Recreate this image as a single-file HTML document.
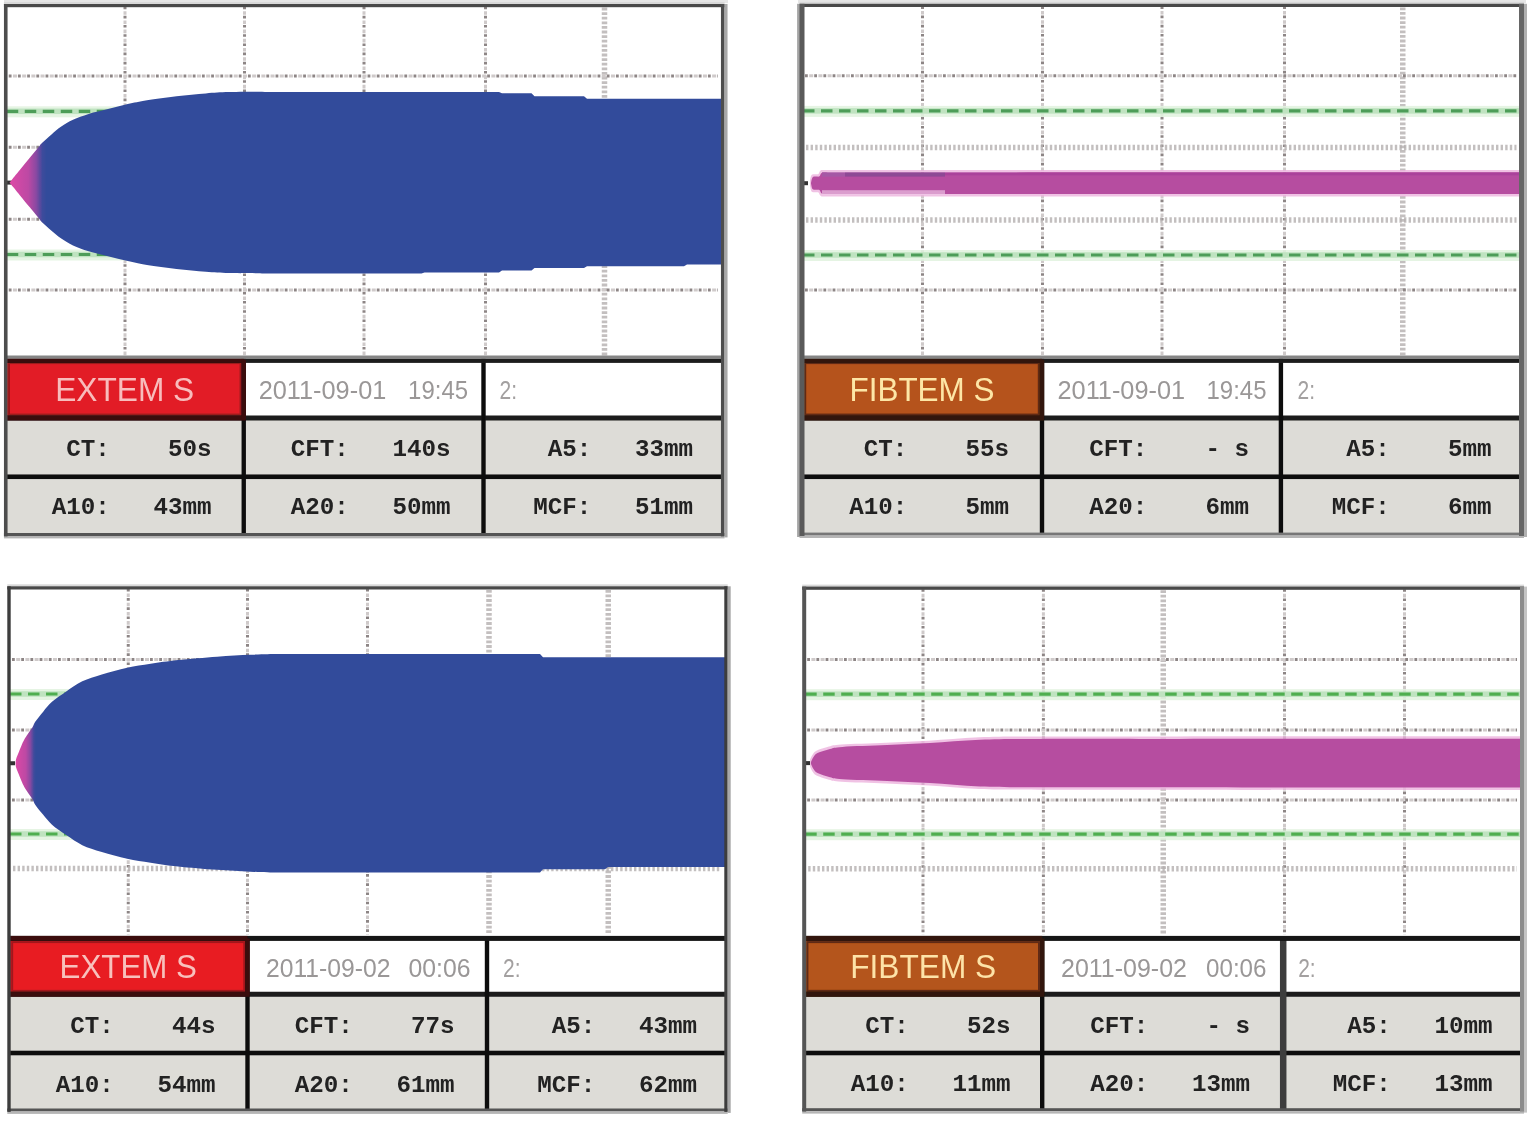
<!DOCTYPE html>
<html lang="en"><head><meta charset="utf-8"><title>ROTEM traces</title>
<style>html,body{margin:0;padding:0;background:#fff}body{width:1536px;height:1133px;overflow:hidden}svg{display:block}</style>
</head><body>
<svg width="1536" height="1133" viewBox="0 0 1536 1133">
<rect width="1536" height="1133" fill="#fff"/>
<defs><filter id="soft" x="-2%" y="-2%" width="104%" height="104%"><feGaussianBlur stdDeviation="0.7"/></filter></defs>
<g filter="url(#soft)">
<rect x="4" y="0" width="724" height="3.2" fill="#e6e6e6"/>
<rect x="798" y="0" width="728" height="3.2" fill="#e6e6e6"/>
<g id="tl">
<rect x="5.75" y="5.6" width="717" height="529.4" fill="#fff"/>
<rect x="5.75" y="418" width="717" height="117" fill="#dddcd7"/>
<rect x="5.75" y="358.5" width="238" height="59.5" fill="#e21e26"/>
<rect x="8.95" y="363.1" width="231.6" height="51.5" fill="none" stroke="#9c1a1e" stroke-width="2"/>
<clipPath id="ctl"><rect x="5.75" y="5.6" width="717" height="352.9"/></clipPath>
<g clip-path="url(#ctl)">
<line x1="125" y1="6.6" x2="125" y2="355.5" stroke="#8d8585" stroke-width="3" stroke-dasharray="2.6 6.6"/>
<line x1="125" y1="6.6" x2="125" y2="355.5" stroke="#cfcaca" stroke-width="3" stroke-dasharray="3.6 5.6" stroke-dashoffset="-4.6"/>
<line x1="244.5" y1="6.6" x2="244.5" y2="355.5" stroke="#8d8585" stroke-width="3" stroke-dasharray="2.6 6.6"/>
<line x1="244.5" y1="6.6" x2="244.5" y2="355.5" stroke="#cfcaca" stroke-width="3" stroke-dasharray="3.6 5.6" stroke-dashoffset="-4.6"/>
<line x1="364" y1="6.6" x2="364" y2="355.5" stroke="#8d8585" stroke-width="3" stroke-dasharray="2.6 6.6"/>
<line x1="364" y1="6.6" x2="364" y2="355.5" stroke="#cfcaca" stroke-width="3" stroke-dasharray="3.6 5.6" stroke-dashoffset="-4.6"/>
<line x1="485.5" y1="6.6" x2="485.5" y2="355.5" stroke="#8d8585" stroke-width="3" stroke-dasharray="2.6 6.6"/>
<line x1="485.5" y1="6.6" x2="485.5" y2="355.5" stroke="#cfcaca" stroke-width="3" stroke-dasharray="3.6 5.6" stroke-dashoffset="-4.6"/>
<line x1="604.5" y1="7.6" x2="604.5" y2="355.5" stroke="#b9b4b4" stroke-width="5.5" stroke-dasharray="2.8 1.8" opacity=".85"/>
<line x1="8.75" y1="75.9" x2="717.75" y2="75.9" stroke="#8d8585" stroke-width="3" stroke-dasharray="2.8 6.4"/>
<line x1="8.75" y1="75.9" x2="717.75" y2="75.9" stroke="#cfcaca" stroke-width="3" stroke-dasharray="4 5.2" stroke-dashoffset="-4.2"/>
<line x1="8.75" y1="147.3" x2="717.75" y2="147.3" stroke="#8d8585" stroke-width="3" stroke-dasharray="2.8 6.4"/>
<line x1="8.75" y1="147.3" x2="717.75" y2="147.3" stroke="#cfcaca" stroke-width="3" stroke-dasharray="4 5.2" stroke-dashoffset="-4.2"/>
<line x1="8.75" y1="219.3" x2="717.75" y2="219.3" stroke="#8d8585" stroke-width="3" stroke-dasharray="2.8 6.4"/>
<line x1="8.75" y1="219.3" x2="717.75" y2="219.3" stroke="#cfcaca" stroke-width="3" stroke-dasharray="4 5.2" stroke-dashoffset="-4.2"/>
<line x1="8.75" y1="289.9" x2="717.75" y2="289.9" stroke="#8d8585" stroke-width="3" stroke-dasharray="2.8 6.4"/>
<line x1="8.75" y1="289.9" x2="717.75" y2="289.9" stroke="#cfcaca" stroke-width="3" stroke-dasharray="4 5.2" stroke-dashoffset="-4.2"/>
<rect x="5.75" y="106.3" width="717" height="11" fill="#dff1dc" opacity=".8"/>
<rect x="5.75" y="108.55" width="717" height="5.5" fill="#bfe3c0"/>
<line x1="6.75" y1="111.3" x2="722.75" y2="111.3" stroke="#4d9d58" stroke-width="3.2" stroke-dasharray="11.5 6.5"/>
<rect x="5.75" y="249.5" width="717" height="11" fill="#dff1dc" opacity=".8"/>
<rect x="5.75" y="251.75" width="717" height="5.5" fill="#bfe3c0"/>
<line x1="6.75" y1="254.5" x2="722.75" y2="254.5" stroke="#4d9d58" stroke-width="3.2" stroke-dasharray="11.5 6.5"/>
<rect x="5.75" y="180.6" width="6" height="4" fill="#333"/>
<defs><linearGradient id="gtl" gradientUnits="userSpaceOnUse" x1="10.5" y1="0" x2="46" y2="0">
<stop offset="0" stop-color="#dc4aa6"/><stop offset=".5" stop-color="#bd48a4"/><stop offset=".72" stop-color="#8a49a2"/><stop offset=".9" stop-color="#3e4b9c"/><stop offset="1" stop-color="#334b9b"/></linearGradient></defs>
<path d="M9.5 182.6C9.67 182.4 8.75 183.53 10.5 181.4C12.25 179.27 16.75 173.77 20 169.8C23.25 165.83 26.83 161.47 30 157.6C33.17 153.73 37.05 149 39 146.6C40.95 144.2 39.62 145.23 41.7 143.2C43.78 141.17 48.24 137.17 51.5 134.4C54.76 131.63 57.67 129.03 61.25 126.6C64.83 124.17 68.44 121.92 73 119.8C77.56 117.68 82.77 115.7 88.6 113.9C94.43 112.1 101.48 110.63 108 109C114.52 107.37 121.2 105.57 127.7 104.1C134.2 102.63 138.87 101.5 147 100.2C155.13 98.9 166.7 97.43 176.5 96.3C186.3 95.17 197.05 94.1 205.8 93.4C214.55 92.7 219.63 92.37 229 92.1C238.37 91.83 256.5 91.85 262 91.8L265 91.9L499 91.9L502 93.2L531.5 93.2L534.5 96.25L584 96.25L587 98.75L730 98.75L724.75 264.5L687 264.5L684 266.25L587 266.25L584 268L534.5 268L531.5 270.5L502 270.5L499 272.5L424.5 272.5L421.5 273.6L262 273.6L262 273.4C256.5 273.35 238.37 273.37 229 273.1C219.63 272.83 214.55 272.5 205.8 271.8C197.05 271.1 186.3 270.03 176.5 268.9C166.7 267.77 155.13 266.3 147 265C138.87 263.7 134.2 262.57 127.7 261.1C121.2 259.63 114.52 257.83 108 256.2C101.48 254.57 94.43 253.1 88.6 251.3C82.77 249.5 77.56 247.52 73 245.4C68.44 243.28 64.83 241.03 61.25 238.6C57.67 236.17 54.76 233.57 51.5 230.8C48.24 228.03 43.78 224.03 41.7 222C39.62 219.97 40.95 221 39 218.6C37.05 216.2 33.17 211.47 30 207.6C26.83 203.73 23.25 199.37 20 195.4C16.75 191.43 12.25 185.93 10.5 183.8C8.75 181.67 9.67 182.8 9.5 182.6Z" fill="url(#gtl)"/>
</g>
<rect x="5.75" y="415.5" width="717" height="5" fill="#1a1a1a"/>
<rect x="5.75" y="474.45" width="717" height="4.6" fill="#111"/>
<rect x="241.55" y="358.5" width="4.4" height="176.5" fill="#111"/>
<rect x="481.3" y="358.5" width="4.4" height="176.5" fill="#111"/>
<rect x="5.75" y="355.5" width="717" height="3.4" fill="#858585"/>
<rect x="5.75" y="358.9" width="717" height="4" fill="#1c1c1c"/>
<rect x="5.75" y="358.9" width="238" height="4" fill="#3a0c0e"/>
<rect x="5.75" y="415.5" width="240" height="5" fill="#3a0c0e"/>
<rect x="241.55" y="359.5" width="4.4" height="59.5" fill="#3a0c0e"/>
<rect x="3.95" y="2" width="720.6" height="2.4" fill="#d9d9d9"/>
<rect x="3.95" y="4" width="720.6" height="3.2" fill="#4a4a4a"/>
<rect x="3.95" y="533" width="720.6" height="3" fill="#555"/>
<rect x="3.95" y="536" width="720.6" height="2.4" fill="#b5b5b5"/>
<rect x="3.95" y="4" width="3.6" height="532.4" fill="#4d4d4d"/>
<rect x="720.95" y="4" width="3.6" height="532.4" fill="#4d4d4d"/>
<rect x="724.55" y="4" width="3" height="533.4" fill="#a8a8a8"/>
<text x="124.75" y="400.55" text-anchor="middle" font-family="'Liberation Sans',sans-serif" font-size="33.5" textLength="139" lengthAdjust="spacingAndGlyphs" fill="#f8bcbc">EXTEM S</text>
<text x="258.7" y="399.4" font-family="'Liberation Sans',sans-serif" font-size="26.5" textLength="127.6" lengthAdjust="spacingAndGlyphs" fill="#9a9797">2011-09-01</text>
<text x="408.1" y="399.4" font-family="'Liberation Sans',sans-serif" font-size="26.5" textLength="60" lengthAdjust="spacingAndGlyphs" fill="#9a9797">19:45</text>
<text x="499.5" y="399.4" font-family="'Liberation Sans',sans-serif" font-size="26.5" textLength="17.5" lengthAdjust="spacingAndGlyphs" fill="#a3a0a0">2:</text>
<text x="211.5" y="455.98" text-anchor="end" font-family="'Liberation Mono',monospace" font-weight="bold" font-size="24.2" fill="#222" xml:space="preserve" style="white-space:pre">CT:    50s</text>
<text x="450.5" y="455.98" text-anchor="end" font-family="'Liberation Mono',monospace" font-weight="bold" font-size="24.2" fill="#222" xml:space="preserve" style="white-space:pre">CFT:   140s</text>
<text x="693" y="455.98" text-anchor="end" font-family="'Liberation Mono',monospace" font-weight="bold" font-size="24.2" fill="#222" xml:space="preserve" style="white-space:pre">A5:   33mm</text>
<text x="211.5" y="514.48" text-anchor="end" font-family="'Liberation Mono',monospace" font-weight="bold" font-size="24.2" fill="#222" xml:space="preserve" style="white-space:pre">A10:   43mm</text>
<text x="450.5" y="514.48" text-anchor="end" font-family="'Liberation Mono',monospace" font-weight="bold" font-size="24.2" fill="#222" xml:space="preserve" style="white-space:pre">A20:   50mm</text>
<text x="693" y="514.48" text-anchor="end" font-family="'Liberation Mono',monospace" font-weight="bold" font-size="24.2" fill="#222" xml:space="preserve" style="white-space:pre">MCF:   51mm</text>
</g>
<g id="tr">
<rect x="802" y="5.4" width="719.5" height="529.2" fill="#fff"/>
<rect x="802" y="418" width="719.5" height="116.6" fill="#dddcd7"/>
<rect x="802" y="358.5" width="240" height="59.5" fill="#b5531c"/>
<rect x="805.2" y="363.1" width="233.6" height="51.5" fill="none" stroke="#5e2a12" stroke-width="2"/>
<clipPath id="ctr"><rect x="802" y="5.4" width="719.5" height="353.1"/></clipPath>
<g clip-path="url(#ctr)">
<line x1="922.5" y1="6.4" x2="922.5" y2="355.5" stroke="#8d8585" stroke-width="3" stroke-dasharray="2.6 6.6"/>
<line x1="922.5" y1="6.4" x2="922.5" y2="355.5" stroke="#cfcaca" stroke-width="3" stroke-dasharray="3.6 5.6" stroke-dashoffset="-4.6"/>
<line x1="1042.5" y1="6.4" x2="1042.5" y2="355.5" stroke="#8d8585" stroke-width="3" stroke-dasharray="2.6 6.6"/>
<line x1="1042.5" y1="6.4" x2="1042.5" y2="355.5" stroke="#cfcaca" stroke-width="3" stroke-dasharray="3.6 5.6" stroke-dashoffset="-4.6"/>
<line x1="1162" y1="6.4" x2="1162" y2="355.5" stroke="#8d8585" stroke-width="3" stroke-dasharray="2.6 6.6"/>
<line x1="1162" y1="6.4" x2="1162" y2="355.5" stroke="#cfcaca" stroke-width="3" stroke-dasharray="3.6 5.6" stroke-dashoffset="-4.6"/>
<line x1="1284.5" y1="6.4" x2="1284.5" y2="355.5" stroke="#8d8585" stroke-width="3" stroke-dasharray="2.6 6.6"/>
<line x1="1284.5" y1="6.4" x2="1284.5" y2="355.5" stroke="#cfcaca" stroke-width="3" stroke-dasharray="3.6 5.6" stroke-dashoffset="-4.6"/>
<line x1="1402.75" y1="7.4" x2="1402.75" y2="355.5" stroke="#b9b4b4" stroke-width="5.5" stroke-dasharray="2.8 1.8" opacity=".85"/>
<line x1="805" y1="75.75" x2="1516.5" y2="75.75" stroke="#8d8585" stroke-width="3" stroke-dasharray="2.8 6.4"/>
<line x1="805" y1="75.75" x2="1516.5" y2="75.75" stroke="#cfcaca" stroke-width="3" stroke-dasharray="4 5.2" stroke-dashoffset="-4.2"/>
<line x1="806" y1="147.6" x2="1516.5" y2="147.6" stroke="#b5b0b0" stroke-width="5.5" stroke-dasharray="2.4 2.2" opacity=".8"/>
<line x1="806" y1="220" x2="1516.5" y2="220" stroke="#b5b0b0" stroke-width="5.5" stroke-dasharray="2.4 2.2" opacity=".8"/>
<line x1="805" y1="290" x2="1516.5" y2="290" stroke="#8d8585" stroke-width="3" stroke-dasharray="2.8 6.4"/>
<line x1="805" y1="290" x2="1516.5" y2="290" stroke="#cfcaca" stroke-width="3" stroke-dasharray="4 5.2" stroke-dashoffset="-4.2"/>
<rect x="802" y="105.9" width="719.5" height="11" fill="#dff1dc" opacity=".8"/>
<rect x="802" y="108.15" width="719.5" height="5.5" fill="#bfe3c0"/>
<line x1="803" y1="110.9" x2="1521.5" y2="110.9" stroke="#4d9d58" stroke-width="3.2" stroke-dasharray="11.5 6.5"/>
<rect x="802" y="250" width="719.5" height="11" fill="#dff1dc" opacity=".8"/>
<rect x="802" y="252.25" width="719.5" height="5.5" fill="#bfe3c0"/>
<line x1="803" y1="255" x2="1521.5" y2="255" stroke="#4d9d58" stroke-width="3.2" stroke-dasharray="11.5 6.5"/>
<rect x="802" y="181.2" width="6" height="4" fill="#333"/>
<path d="M810 180.3C810.25 179.42 810.67 176.02 811.5 175C812.33 173.98 813.83 174.38 815 174.2C816.17 174.02 817.5 174.55 818.5 173.9C819.5 173.25 819.25 170.95 821 170.3C822.75 169.65 816 170.05 829 170C842 169.95 870.67 170 899 170C927.33 170 957.33 170.02 999 170C1040.67 169.98 1099 169.92 1149 169.9C1199 169.88 1249 169.9 1299 169.9C1349 169.9 1410.67 169.9 1449 169.9C1487.33 169.9 1515.67 169.9 1529 169.9L1529 196.5C1515.67 196.5 1487.33 196.5 1449 196.5C1410.67 196.5 1349 196.5 1299 196.5C1249 196.5 1199 196.52 1149 196.5C1099 196.48 1040.67 196.42 999 196.4C957.33 196.38 927.33 196.4 899 196.4C870.67 196.4 842 196.45 829 196.4C816 196.35 822.75 196.75 821 196.1C819.25 195.45 819.5 193.15 818.5 192.5C817.5 191.85 816.17 192.38 815 192.2C813.83 192.02 812.33 192.42 811.5 191.4C810.67 190.38 810.25 186.98 810 186.1Z" fill="#ecb3dd" opacity=".8"/>
<path d="M811 182.7C811.25 181.82 811.67 178.42 812.5 177.4C813.33 176.38 814.83 176.78 816 176.6C817.17 176.42 818.5 176.95 819.5 176.3C820.5 175.65 820.25 173.35 822 172.7C823.75 172.05 817 172.45 830 172.4C843 172.35 871.67 172.4 900 172.4C928.33 172.4 958.33 172.42 1000 172.4C1041.67 172.38 1100 172.32 1150 172.3C1200 172.28 1250 172.3 1300 172.3C1350 172.3 1411.67 172.3 1450 172.3C1488.33 172.3 1516.67 172.3 1530 172.3L1530 194.1C1516.67 194.1 1488.33 194.1 1450 194.1C1411.67 194.1 1350 194.1 1300 194.1C1250 194.1 1200 194.12 1150 194.1C1100 194.08 1041.67 194.02 1000 194C958.33 193.98 928.33 194 900 194C871.67 194 843 194.05 830 194C817 193.95 823.75 194.35 822 193.7C820.25 193.05 820.5 190.75 819.5 190.1C818.5 189.45 817.17 189.98 816 189.8C814.83 189.62 813.33 190.02 812.5 189C811.67 187.98 811.25 184.58 811 183.7Z" fill="#b64da0"/>
<rect x="822" y="172.4" width="23" height="4.2" fill="#9a62a8" opacity="0.6"/>
<rect x="845" y="172.4" width="100" height="4.2" fill="#7d4690" opacity="0.7"/>
<rect x="822" y="190.2" width="123" height="4.2" fill="#f3d3ec" opacity="0.6"/>
<rect x="945" y="172.4" width="580" height="3" fill="#a03c98" opacity="0.55"/>
</g>
<rect x="802" y="415.5" width="719.5" height="5" fill="#1a1a1a"/>
<rect x="802" y="474.45" width="719.5" height="4.6" fill="#111"/>
<rect x="1039.8" y="358.5" width="4.4" height="176.1" fill="#111"/>
<rect x="1278.7" y="358.5" width="4.4" height="176.1" fill="#111"/>
<rect x="802" y="355.5" width="719.5" height="3.4" fill="#858585"/>
<rect x="802" y="358.9" width="719.5" height="4" fill="#1c1c1c"/>
<rect x="802" y="358.9" width="240" height="4" fill="#33140a"/>
<rect x="802" y="415.5" width="242" height="5" fill="#33140a"/>
<rect x="1039.8" y="359.5" width="4.4" height="59.5" fill="#33140a"/>
<rect x="799.5" y="1.8" width="724.5" height="2.4" fill="#d9d9d9"/>
<rect x="799.5" y="3.8" width="724.5" height="3.2" fill="#4a4a4a"/>
<rect x="799.5" y="532.6" width="724.5" height="3" fill="#777"/>
<rect x="799.5" y="535.6" width="724.5" height="2.4" fill="#b5b5b5"/>
<rect x="797.1" y="3.8" width="3" height="533.2" fill="#a5a5a5"/>
<rect x="799.5" y="3.8" width="5" height="532.2" fill="#5a5a5a"/>
<rect x="1519" y="3.8" width="5" height="532.2" fill="#666"/>
<rect x="1524" y="3.8" width="3" height="533.2" fill="#b0b0b0"/>
<text x="922" y="400.55" text-anchor="middle" font-family="'Liberation Sans',sans-serif" font-size="33.5" textLength="145" lengthAdjust="spacingAndGlyphs" fill="#fde6a6">FIBTEM S</text>
<text x="1057.5" y="399.4" font-family="'Liberation Sans',sans-serif" font-size="26.5" textLength="127.6" lengthAdjust="spacingAndGlyphs" fill="#9a9797">2011-09-01</text>
<text x="1206.5" y="399.4" font-family="'Liberation Sans',sans-serif" font-size="26.5" textLength="60" lengthAdjust="spacingAndGlyphs" fill="#9a9797">19:45</text>
<text x="1297.5" y="399.4" font-family="'Liberation Sans',sans-serif" font-size="26.5" textLength="17.5" lengthAdjust="spacingAndGlyphs" fill="#a3a0a0">2:</text>
<text x="1009" y="455.98" text-anchor="end" font-family="'Liberation Mono',monospace" font-weight="bold" font-size="24.2" fill="#222" xml:space="preserve" style="white-space:pre">CT:    55s</text>
<text x="1249" y="455.98" text-anchor="end" font-family="'Liberation Mono',monospace" font-weight="bold" font-size="24.2" fill="#222" xml:space="preserve" style="white-space:pre">CFT:    - s</text>
<text x="1491.5" y="455.98" text-anchor="end" font-family="'Liberation Mono',monospace" font-weight="bold" font-size="24.2" fill="#222" xml:space="preserve" style="white-space:pre">A5:    5mm</text>
<text x="1009" y="514.27" text-anchor="end" font-family="'Liberation Mono',monospace" font-weight="bold" font-size="24.2" fill="#222" xml:space="preserve" style="white-space:pre">A10:    5mm</text>
<text x="1249" y="514.27" text-anchor="end" font-family="'Liberation Mono',monospace" font-weight="bold" font-size="24.2" fill="#222" xml:space="preserve" style="white-space:pre">A20:    6mm</text>
<text x="1491.5" y="514.27" text-anchor="end" font-family="'Liberation Mono',monospace" font-weight="bold" font-size="24.2" fill="#222" xml:space="preserve" style="white-space:pre">MCF:    6mm</text>
</g>
<g id="bl">
<rect x="9" y="587.9" width="717" height="522.6" fill="#fff"/>
<rect x="9" y="994.25" width="717" height="116.25" fill="#dddcd7"/>
<rect x="9" y="937.5" width="238.5" height="56.75" fill="#e81c24"/>
<rect x="12.2" y="942.1" width="232.1" height="48.75" fill="none" stroke="#a3161b" stroke-width="2"/>
<clipPath id="cbl"><rect x="9" y="587.9" width="717" height="349.6"/></clipPath>
<g clip-path="url(#cbl)">
<line x1="128.25" y1="588.9" x2="128.25" y2="934.5" stroke="#8d8585" stroke-width="3" stroke-dasharray="2.6 6.6"/>
<line x1="128.25" y1="588.9" x2="128.25" y2="934.5" stroke="#cfcaca" stroke-width="3" stroke-dasharray="3.6 5.6" stroke-dashoffset="-4.6"/>
<line x1="247.5" y1="588.9" x2="247.5" y2="934.5" stroke="#8d8585" stroke-width="3" stroke-dasharray="2.6 6.6"/>
<line x1="247.5" y1="588.9" x2="247.5" y2="934.5" stroke="#cfcaca" stroke-width="3" stroke-dasharray="3.6 5.6" stroke-dashoffset="-4.6"/>
<line x1="367.5" y1="588.9" x2="367.5" y2="934.5" stroke="#8d8585" stroke-width="3" stroke-dasharray="2.6 6.6"/>
<line x1="367.5" y1="588.9" x2="367.5" y2="934.5" stroke="#cfcaca" stroke-width="3" stroke-dasharray="3.6 5.6" stroke-dashoffset="-4.6"/>
<line x1="489" y1="589.9" x2="489" y2="934.5" stroke="#b9b4b4" stroke-width="5.5" stroke-dasharray="2.8 1.8" opacity=".85"/>
<line x1="608.25" y1="589.9" x2="608.25" y2="934.5" stroke="#b9b4b4" stroke-width="5.5" stroke-dasharray="2.8 1.8" opacity=".85"/>
<line x1="12" y1="659.5" x2="721" y2="659.5" stroke="#8d8585" stroke-width="3" stroke-dasharray="2.8 6.4"/>
<line x1="12" y1="659.5" x2="721" y2="659.5" stroke="#cfcaca" stroke-width="3" stroke-dasharray="4 5.2" stroke-dashoffset="-4.2"/>
<line x1="12" y1="730" x2="721" y2="730" stroke="#8d8585" stroke-width="3" stroke-dasharray="2.8 6.4"/>
<line x1="12" y1="730" x2="721" y2="730" stroke="#cfcaca" stroke-width="3" stroke-dasharray="4 5.2" stroke-dashoffset="-4.2"/>
<line x1="12" y1="800" x2="721" y2="800" stroke="#8d8585" stroke-width="3" stroke-dasharray="2.8 6.4"/>
<line x1="12" y1="800" x2="721" y2="800" stroke="#cfcaca" stroke-width="3" stroke-dasharray="4 5.2" stroke-dashoffset="-4.2"/>
<line x1="13" y1="868.6" x2="721" y2="868.6" stroke="#b5b0b0" stroke-width="5.5" stroke-dasharray="2.4 2.2" opacity=".8"/>
<rect x="9" y="689" width="717" height="11" fill="#dff1dc" opacity=".8"/>
<rect x="9" y="691.25" width="717" height="5.5" fill="#bfe3c0"/>
<line x1="10" y1="694" x2="726" y2="694" stroke="#4fae50" stroke-width="3.2" stroke-dasharray="11.5 6.5"/>
<rect x="9" y="829" width="717" height="11" fill="#dff1dc" opacity=".8"/>
<rect x="9" y="831.25" width="717" height="5.5" fill="#bfe3c0"/>
<line x1="10" y1="834" x2="726" y2="834" stroke="#4fae50" stroke-width="3.2" stroke-dasharray="11.5 6.5"/>
<rect x="9" y="761.25" width="6" height="4" fill="#333"/>
<defs><linearGradient id="gbl" gradientUnits="userSpaceOnUse" x1="15.5" y1="0" x2="36" y2="0">
<stop offset="0" stop-color="#dc4aa6"/><stop offset=".5" stop-color="#bd48a4"/><stop offset=".72" stop-color="#8a49a2"/><stop offset=".9" stop-color="#3e4b9c"/><stop offset="1" stop-color="#334b9b"/></linearGradient></defs>
<path d="M15.5 763.25C15.62 762.5 15.66 760.58 16.2 758.75C16.74 756.92 17.78 754.67 18.75 752.25C19.72 749.83 20.96 746.58 22 744.25C23.04 741.92 23.83 740.25 25 738.25C26.17 736.25 27.75 734.08 29 732.25C30.25 730.42 31.43 729.05 32.5 727.25C33.57 725.45 33.62 724.05 35.4 721.45C37.18 718.85 40.43 714.92 43.2 711.65C45.97 708.38 48.1 705.27 52 701.85C55.9 698.43 61.55 694.57 66.6 691.15C71.65 687.73 76.43 684.12 82.3 681.35C88.17 678.58 94.32 676.82 101.8 674.55C109.28 672.28 119.07 669.53 127.2 667.75C135.33 665.97 142.13 665.13 150.6 663.85C159.07 662.57 166.93 661.25 178 660.05C189.07 658.85 205 657.52 217 656.65C229 655.78 240.5 655.28 250 654.85C259.5 654.42 270 654.18 274 654.05L277 654L540 654L543 657.2L735 657.2L728 867L608 867L605 869.2L543 869.2L540 872.5L274 872.5L274 872.45C270 872.32 259.5 872.08 250 871.65C240.5 871.22 229 870.72 217 869.85C205 868.98 189.07 867.65 178 866.45C166.93 865.25 159.07 863.93 150.6 862.65C142.13 861.37 135.33 860.53 127.2 858.75C119.07 856.97 109.28 854.22 101.8 851.95C94.32 849.68 88.17 847.92 82.3 845.15C76.43 842.38 71.65 838.77 66.6 835.35C61.55 831.93 55.9 828.07 52 824.65C48.1 821.23 45.97 818.12 43.2 814.85C40.43 811.58 37.18 807.65 35.4 805.05C33.62 802.45 33.57 801.05 32.5 799.25C31.43 797.45 30.25 796.08 29 794.25C27.75 792.42 26.17 790.25 25 788.25C23.83 786.25 23.04 784.58 22 782.25C20.96 779.92 19.72 776.67 18.75 774.25C17.78 771.83 16.74 769.58 16.2 767.75C15.66 765.92 15.62 764 15.5 763.25Z" fill="url(#gbl)"/>
</g>
<rect x="9" y="991.75" width="717" height="5" fill="#1a1a1a"/>
<rect x="9" y="1050.7" width="717" height="4.6" fill="#111"/>
<rect x="245.3" y="937.5" width="4.4" height="173" fill="#111"/>
<rect x="484.8" y="937.5" width="4.4" height="173" fill="#111"/>
<rect x="9" y="935.9" width="717" height="5" fill="#141414"/>
<rect x="9" y="935.9" width="238.5" height="5" fill="#3a0c0e"/>
<rect x="9" y="991.75" width="240.5" height="5" fill="#3a0c0e"/>
<rect x="245.3" y="938.5" width="4.4" height="56.75" fill="#3a0c0e"/>
<rect x="7.3" y="584.3" width="720.4" height="2.4" fill="#d9d9d9"/>
<rect x="7.3" y="586.3" width="720.4" height="3.2" fill="#4a4a4a"/>
<rect x="7.3" y="1108.5" width="720.4" height="3" fill="#555"/>
<rect x="7.3" y="1111.5" width="720.4" height="2.4" fill="#b5b5b5"/>
<rect x="7.3" y="586.3" width="3.4" height="525.6" fill="#3c3c3c"/>
<rect x="724.3" y="586.3" width="3.4" height="525.6" fill="#3c3c3c"/>
<rect x="727.7" y="586.3" width="3" height="526.6" fill="#a8a8a8"/>
<text x="128.25" y="978.17" text-anchor="middle" font-family="'Liberation Sans',sans-serif" font-size="34" textLength="137.5" lengthAdjust="spacingAndGlyphs" fill="#f8c0bc">EXTEM S</text>
<text x="266" y="977.4" font-family="'Liberation Sans',sans-serif" font-size="26.5" textLength="124.5" lengthAdjust="spacingAndGlyphs" fill="#9a9797">2011-09-02</text>
<text x="408.5" y="977.4" font-family="'Liberation Sans',sans-serif" font-size="26.5" textLength="62" lengthAdjust="spacingAndGlyphs" fill="#9a9797">00:06</text>
<text x="503" y="977.4" font-family="'Liberation Sans',sans-serif" font-size="26.5" textLength="17.5" lengthAdjust="spacingAndGlyphs" fill="#a3a0a0">2:</text>
<text x="215.5" y="1033.42" text-anchor="end" font-family="'Liberation Mono',monospace" font-weight="bold" font-size="24.2" fill="#222" xml:space="preserve" style="white-space:pre">CT:    44s</text>
<text x="454.5" y="1033.42" text-anchor="end" font-family="'Liberation Mono',monospace" font-weight="bold" font-size="24.2" fill="#222" xml:space="preserve" style="white-space:pre">CFT:    77s</text>
<text x="697" y="1033.42" text-anchor="end" font-family="'Liberation Mono',monospace" font-weight="bold" font-size="24.2" fill="#222" xml:space="preserve" style="white-space:pre">A5:   43mm</text>
<text x="215.5" y="1091.55" text-anchor="end" font-family="'Liberation Mono',monospace" font-weight="bold" font-size="24.2" fill="#222" xml:space="preserve" style="white-space:pre">A10:   54mm</text>
<text x="454.5" y="1091.55" text-anchor="end" font-family="'Liberation Mono',monospace" font-weight="bold" font-size="24.2" fill="#222" xml:space="preserve" style="white-space:pre">A20:   61mm</text>
<text x="697" y="1091.55" text-anchor="end" font-family="'Liberation Mono',monospace" font-weight="bold" font-size="24.2" fill="#222" xml:space="preserve" style="white-space:pre">MCF:   62mm</text>
</g>
<g id="br">
<rect x="804.2" y="588.2" width="717.8" height="522" fill="#fff"/>
<rect x="804.2" y="994.25" width="717.8" height="115.95" fill="#dddcd7"/>
<rect x="804.2" y="937.5" width="238" height="56.75" fill="#b4541b"/>
<rect x="807.4" y="942.1" width="231.6" height="48.75" fill="none" stroke="#5e2a12" stroke-width="2"/>
<clipPath id="cbr"><rect x="804.2" y="588.2" width="717.8" height="349.3"/></clipPath>
<g clip-path="url(#cbr)">
<line x1="923" y1="589.2" x2="923" y2="934.5" stroke="#8d8585" stroke-width="3" stroke-dasharray="2.6 6.6"/>
<line x1="923" y1="589.2" x2="923" y2="934.5" stroke="#cfcaca" stroke-width="3" stroke-dasharray="3.6 5.6" stroke-dashoffset="-4.6"/>
<line x1="1043.4" y1="589.2" x2="1043.4" y2="934.5" stroke="#8d8585" stroke-width="3" stroke-dasharray="2.6 6.6"/>
<line x1="1043.4" y1="589.2" x2="1043.4" y2="934.5" stroke="#cfcaca" stroke-width="3" stroke-dasharray="3.6 5.6" stroke-dashoffset="-4.6"/>
<line x1="1163.25" y1="590.2" x2="1163.25" y2="934.5" stroke="#b9b4b4" stroke-width="5.5" stroke-dasharray="2.8 1.8" opacity=".85"/>
<line x1="1284.5" y1="589.2" x2="1284.5" y2="934.5" stroke="#8d8585" stroke-width="3" stroke-dasharray="2.6 6.6"/>
<line x1="1284.5" y1="589.2" x2="1284.5" y2="934.5" stroke="#cfcaca" stroke-width="3" stroke-dasharray="3.6 5.6" stroke-dashoffset="-4.6"/>
<line x1="1404.5" y1="589.2" x2="1404.5" y2="934.5" stroke="#8d8585" stroke-width="3" stroke-dasharray="2.6 6.6"/>
<line x1="1404.5" y1="589.2" x2="1404.5" y2="934.5" stroke="#cfcaca" stroke-width="3" stroke-dasharray="3.6 5.6" stroke-dashoffset="-4.6"/>
<line x1="807.2" y1="659.5" x2="1517" y2="659.5" stroke="#8d8585" stroke-width="3" stroke-dasharray="2.8 6.4"/>
<line x1="807.2" y1="659.5" x2="1517" y2="659.5" stroke="#cfcaca" stroke-width="3" stroke-dasharray="4 5.2" stroke-dashoffset="-4.2"/>
<line x1="807.2" y1="730" x2="1517" y2="730" stroke="#8d8585" stroke-width="3" stroke-dasharray="2.8 6.4"/>
<line x1="807.2" y1="730" x2="1517" y2="730" stroke="#cfcaca" stroke-width="3" stroke-dasharray="4 5.2" stroke-dashoffset="-4.2"/>
<line x1="807.2" y1="800" x2="1517" y2="800" stroke="#8d8585" stroke-width="3" stroke-dasharray="2.8 6.4"/>
<line x1="807.2" y1="800" x2="1517" y2="800" stroke="#cfcaca" stroke-width="3" stroke-dasharray="4 5.2" stroke-dashoffset="-4.2"/>
<line x1="808.2" y1="868.7" x2="1517" y2="868.7" stroke="#b5b0b0" stroke-width="5.5" stroke-dasharray="2.4 2.2" opacity=".8"/>
<rect x="804.2" y="689.2" width="717.8" height="11" fill="#dff1dc" opacity=".8"/>
<rect x="804.2" y="691.45" width="717.8" height="5.5" fill="#bfe3c0"/>
<line x1="805.2" y1="694.2" x2="1522" y2="694.2" stroke="#4fae50" stroke-width="3.2" stroke-dasharray="11.5 6.5"/>
<rect x="804.2" y="829.2" width="717.8" height="11" fill="#dff1dc" opacity=".8"/>
<rect x="804.2" y="831.45" width="717.8" height="5.5" fill="#bfe3c0"/>
<line x1="805.2" y1="834.2" x2="1522" y2="834.2" stroke="#4fae50" stroke-width="3.2" stroke-dasharray="11.5 6.5"/>
<rect x="804.2" y="761.1" width="6" height="4" fill="#333"/>
<path d="M810 759.7C810.42 758.87 811.42 756.2 812.5 754.7C813.58 753.2 813.75 752.07 816.5 750.7C819.25 749.33 824.83 747.53 829 746.5C833.17 745.47 832 745.13 841.5 744.5C851 743.87 871.42 743.33 886 742.7C900.58 742.07 913.5 741.6 929 740.7C944.5 739.8 960.67 738 979 737.3C997.33 736.6 1010.67 736.63 1039 736.5C1067.33 736.37 1105.67 736.53 1149 736.5C1192.33 736.47 1249 736.33 1299 736.3C1349 736.27 1410.67 736.3 1449 736.3C1487.33 736.3 1515.67 736.3 1529 736.3L1529 789.9C1515.67 789.9 1487.33 789.9 1449 789.9C1410.67 789.9 1349 789.93 1299 789.9C1249 789.87 1192.33 789.73 1149 789.7C1105.67 789.67 1067.33 789.83 1039 789.7C1010.67 789.57 997.33 789.6 979 788.9C960.67 788.2 944.5 786.4 929 785.5C913.5 784.6 900.58 784.13 886 783.5C871.42 782.87 851 782.33 841.5 781.7C832 781.07 833.17 780.73 829 779.7C824.83 778.67 819.25 776.87 816.5 775.5C813.75 774.13 813.58 773 812.5 771.5C811.42 770 810.42 767.33 810 766.5Z" fill="#ecb3dd" opacity=".8"/>
<path d="M811 762.1C811.42 761.27 812.42 758.6 813.5 757.1C814.58 755.6 814.75 754.47 817.5 753.1C820.25 751.73 825.83 749.93 830 748.9C834.17 747.87 833 747.53 842.5 746.9C852 746.27 872.42 745.73 887 745.1C901.58 744.47 914.5 744 930 743.1C945.5 742.2 961.67 740.4 980 739.7C998.33 739 1011.67 739.03 1040 738.9C1068.33 738.77 1106.67 738.93 1150 738.9C1193.33 738.87 1250 738.73 1300 738.7C1350 738.67 1411.67 738.7 1450 738.7C1488.33 738.7 1516.67 738.7 1530 738.7L1530 787.5C1516.67 787.5 1488.33 787.5 1450 787.5C1411.67 787.5 1350 787.53 1300 787.5C1250 787.47 1193.33 787.33 1150 787.3C1106.67 787.27 1068.33 787.43 1040 787.3C1011.67 787.17 998.33 787.2 980 786.5C961.67 785.8 945.5 784 930 783.1C914.5 782.2 901.58 781.73 887 781.1C872.42 780.47 852 779.93 842.5 779.3C833 778.67 834.17 778.33 830 777.3C825.83 776.27 820.25 774.47 817.5 773.1C814.75 771.73 814.58 770.6 813.5 769.1C812.42 767.6 811.42 764.93 811 764.1Z" fill="#b64da0"/>
</g>
<rect x="804.2" y="991.75" width="717.8" height="5" fill="#1a1a1a"/>
<rect x="804.2" y="1050.7" width="717.8" height="4.6" fill="#111"/>
<rect x="1040" y="937.5" width="4.4" height="172.7" fill="#111"/>
<rect x="1279.95" y="937.5" width="6.5" height="172.7" fill="#3c3c3c"/>
<rect x="804.2" y="935.9" width="717.8" height="5" fill="#141414"/>
<rect x="804.2" y="935.9" width="238" height="5" fill="#33140a"/>
<rect x="804.2" y="991.75" width="240" height="5" fill="#33140a"/>
<rect x="1040" y="938.5" width="4.4" height="56.75" fill="#33140a"/>
<rect x="802.2" y="584.6" width="721.8" height="2.4" fill="#d9d9d9"/>
<rect x="802.2" y="586.6" width="721.8" height="3.2" fill="#4a4a4a"/>
<rect x="802.2" y="1108.2" width="721.8" height="3" fill="#555"/>
<rect x="802.2" y="1111.2" width="721.8" height="2.4" fill="#b5b5b5"/>
<rect x="802.2" y="586.6" width="4" height="525" fill="#555"/>
<rect x="1520" y="586.6" width="4" height="525" fill="#8c8c8c"/>
<rect x="1524" y="586.6" width="3" height="526" fill="#c4c4c4"/>
<text x="923.2" y="978.17" text-anchor="middle" font-family="'Liberation Sans',sans-serif" font-size="34" textLength="146" lengthAdjust="spacingAndGlyphs" fill="#fde3a8">FIBTEM S</text>
<text x="1061" y="977.4" font-family="'Liberation Sans',sans-serif" font-size="26.5" textLength="126" lengthAdjust="spacingAndGlyphs" fill="#9a9797">2011-09-02</text>
<text x="1206" y="977.4" font-family="'Liberation Sans',sans-serif" font-size="26.5" textLength="60.5" lengthAdjust="spacingAndGlyphs" fill="#9a9797">00:06</text>
<text x="1298.2" y="977.4" font-family="'Liberation Sans',sans-serif" font-size="26.5" textLength="17.5" lengthAdjust="spacingAndGlyphs" fill="#a3a0a0">2:</text>
<text x="1010.5" y="1033.42" text-anchor="end" font-family="'Liberation Mono',monospace" font-weight="bold" font-size="24.2" fill="#222" xml:space="preserve" style="white-space:pre">CT:    52s</text>
<text x="1250" y="1033.42" text-anchor="end" font-family="'Liberation Mono',monospace" font-weight="bold" font-size="24.2" fill="#222" xml:space="preserve" style="white-space:pre">CFT:    - s</text>
<text x="1492.5" y="1033.42" text-anchor="end" font-family="'Liberation Mono',monospace" font-weight="bold" font-size="24.2" fill="#222" xml:space="preserve" style="white-space:pre">A5:   10mm</text>
<text x="1010.5" y="1091.4" text-anchor="end" font-family="'Liberation Mono',monospace" font-weight="bold" font-size="24.2" fill="#222" xml:space="preserve" style="white-space:pre">A10:   11mm</text>
<text x="1250" y="1091.4" text-anchor="end" font-family="'Liberation Mono',monospace" font-weight="bold" font-size="24.2" fill="#222" xml:space="preserve" style="white-space:pre">A20:   13mm</text>
<text x="1492.5" y="1091.4" text-anchor="end" font-family="'Liberation Mono',monospace" font-weight="bold" font-size="24.2" fill="#222" xml:space="preserve" style="white-space:pre">MCF:   13mm</text>
</g>
</g>
</svg>
</body></html>
